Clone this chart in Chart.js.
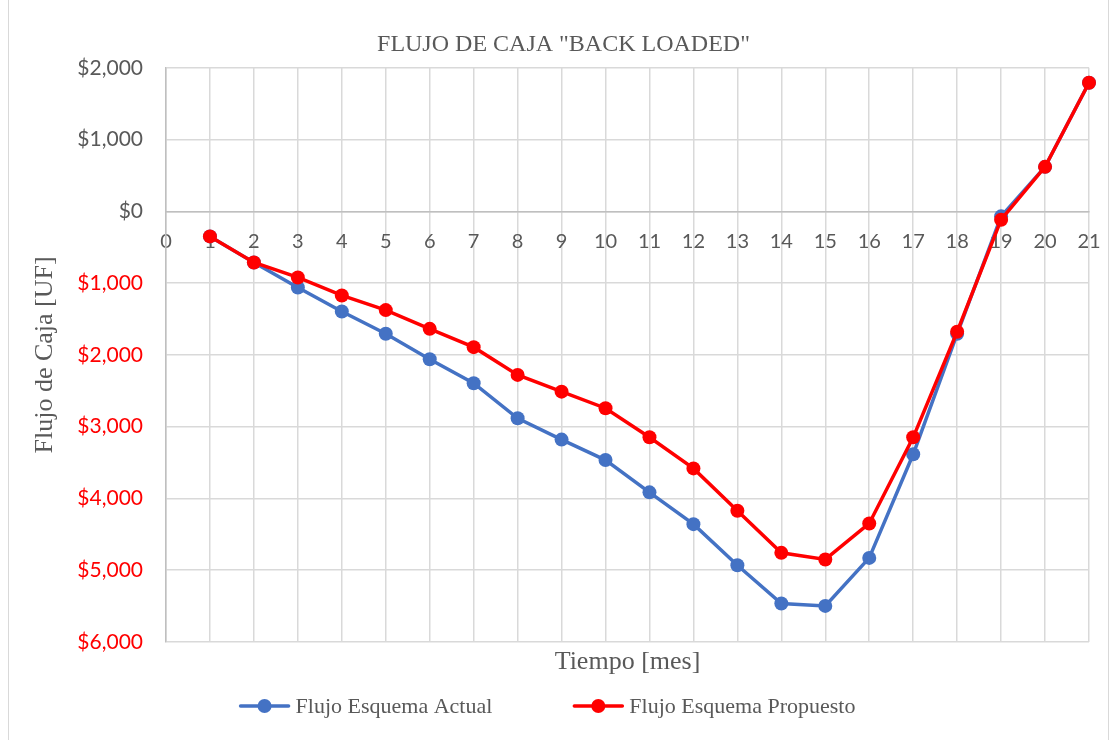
<!DOCTYPE html>
<html>
<head>
<meta charset="utf-8">
<script src="https://cdn.jsdelivr.net/npm/chart.js@4"></script>
<style>
  body { margin: 0; background: #fff; }
  #wrap { position: relative; width: 1109px; height: 740px; }
  #frame { position: absolute; left: 8px; top: -1px; width: 1099px; height: 740px; border: 1px solid #d9d9d9; pointer-events: none; }
</style>
</head>
<body>
<div id="wrap">
  <canvas id="myChart" width="1109" height="740"></canvas>
  <div id="frame"></div>
</div>
<script>
const months = [1, 2, 3, 4, 5, 6, 7, 8, 9, 10, 11, 12, 13, 14, 15, 16, 17, 18, 19, 20, 21];
const flujoActual = [-349, -712, -1060, -1395, -1706, -2060, -2394, -2883, -3180, -3465, -3915, -4358,
  -4930, -5464, -5497, -4828, -3385, -1707, -70, 620, 1792];
const flujoPropuesto = [-349, -712, -921, -1172, -1376, -1637, -1892, -2279, -2512, -2743, -3148, -3581,
  -4172, -4758, -4850, -4348, -3148, -1677, -116, 620, 1792];
const seriesNames = ["Flujo Esquema Actual", "Flujo Esquema Propuesto"];
const seriesColors = ["#4472C4", "#FF0000"];

const gray = "#595959";
const serif = "'Liberation Serif', 'Times New Roman', serif";

function toPoints(values) {
  return values.map((v, i) => ({ x: months[i], y: v }));
}

// legend drawn by hand: line with marker, wide gap between items
const lineLegend = {
  id: "lineLegend",
  afterDraw(chart) {
    const ctx = chart.ctx;
    ctx.save();
    ctx.font = "22px " + serif;
    const lineLen = 52, textGap = 5, itemGap = 80;
    const widths = seriesNames.map((t) => ctx.measureText(t).width);
    let total = itemGap * (seriesNames.length - 1);
    widths.forEach((w) => (total += lineLen + textGap + w));
    let x = 547 - total / 2;
    const y = 706;
    seriesNames.forEach((name, i) => {
      ctx.strokeStyle = seriesColors[i];
      ctx.fillStyle = seriesColors[i];
      ctx.lineWidth = 3.5;
      ctx.lineCap = "round";
      ctx.beginPath();
      ctx.moveTo(x + 2, y);
      ctx.lineTo(x + lineLen - 2, y);
      ctx.stroke();
      ctx.beginPath();
      ctx.arc(x + lineLen / 2, y, 7, 0, Math.PI * 2);
      ctx.fill();
      ctx.fillStyle = gray;
      ctx.textBaseline = "middle";
      ctx.textAlign = "left";
      ctx.fillText(name, x + lineLen + textGap, y + 1);
      x += lineLen + textGap + widths[i] + itemGap;
    });
    ctx.restore();
  },
};

const ctx = document.getElementById("myChart").getContext("2d");
const myChart = new Chart(ctx, {
  type: "line",
  data: {
    datasets: [
      {
        label: seriesNames[0],
        data: toPoints(flujoActual),
        borderColor: seriesColors[0],
        backgroundColor: seriesColors[0],
        borderWidth: 3.5,
        pointRadius: 7,
        pointBorderWidth: 0,
        tension: 0,
        clip: false,
        order: 1,
      },
      {
        label: seriesNames[1],
        data: toPoints(flujoPropuesto),
        borderColor: seriesColors[1],
        backgroundColor: seriesColors[1],
        borderWidth: 3.5,
        pointRadius: 7,
        pointBorderWidth: 0,
        tension: 0,
        clip: false,
        order: 0,
      },
    ],
  },
  options: {
    responsive: false,
    animation: false,
    layout: { padding: { left: 38, right: 20, top: 0, bottom: 62 } },
    plugins: {
      legend: { display: false },
      tooltip: { enabled: false },
      title: {
        display: true,
        text: 'FLUJO DE CAJA "BACK LOADED"',
        color: gray,
        font: { family: serif, size: 24, weight: "normal" },
        padding: { top: 30, bottom: 9 },
      },
    },
    scales: {
      x: {
        type: "linear",
        position: { y: 0 },
        min: 0,
        max: 21,
        ticks: {
          stepSize: 1,
          color: gray,
          padding: 18,
          font: { family: "Lato", size: 20 },
        },
        grid: { color: "#d9d9d9", lineWidth: 1.5, drawTicks: false },
        border: { color: "#bfbfbf", width: 1.5 },
        afterFit(scale) {
          scale.paddingLeft = 0;
          scale.paddingRight = 0;
        },
      },
      xTitle: {
        type: "linear",
        position: "bottom",
        ticks: { display: false },
        grid: { display: false },
        border: { display: false },
        title: {
          display: true,
          text: "Tiempo [mes]",
          color: gray,
          font: { family: serif, size: 26 },
          padding: 0,
        },
        afterFit(scale) {
          scale.height = 36;
        },
      },
      y: {
        min: -6000,
        max: 2000,
        ticks: {
          stepSize: 1000,
          padding: 23,
          font: { family: "Lato", size: 21 },
          color: (c) => (c.tick && c.tick.value < 0 ? "#FF0000" : gray),
          callback: (v) => "$" + Math.abs(v).toLocaleString("en-US"),
        },
        grid: { color: "#d9d9d9", lineWidth: 1.5, drawTicks: false },
        border: { color: "#bfbfbf", width: 1.5 },
        title: {
          display: true,
          text: "Flujo de Caja [UF]",
          color: gray,
          font: { family: serif, size: 26, lineHeight: "14px" },
          padding: 0,
        },
        afterFit(scale) {
          scale.width = 128;
        },
      },
    },
  },
  plugins: [lineLegend],
});
</script>
</body>
</html>
